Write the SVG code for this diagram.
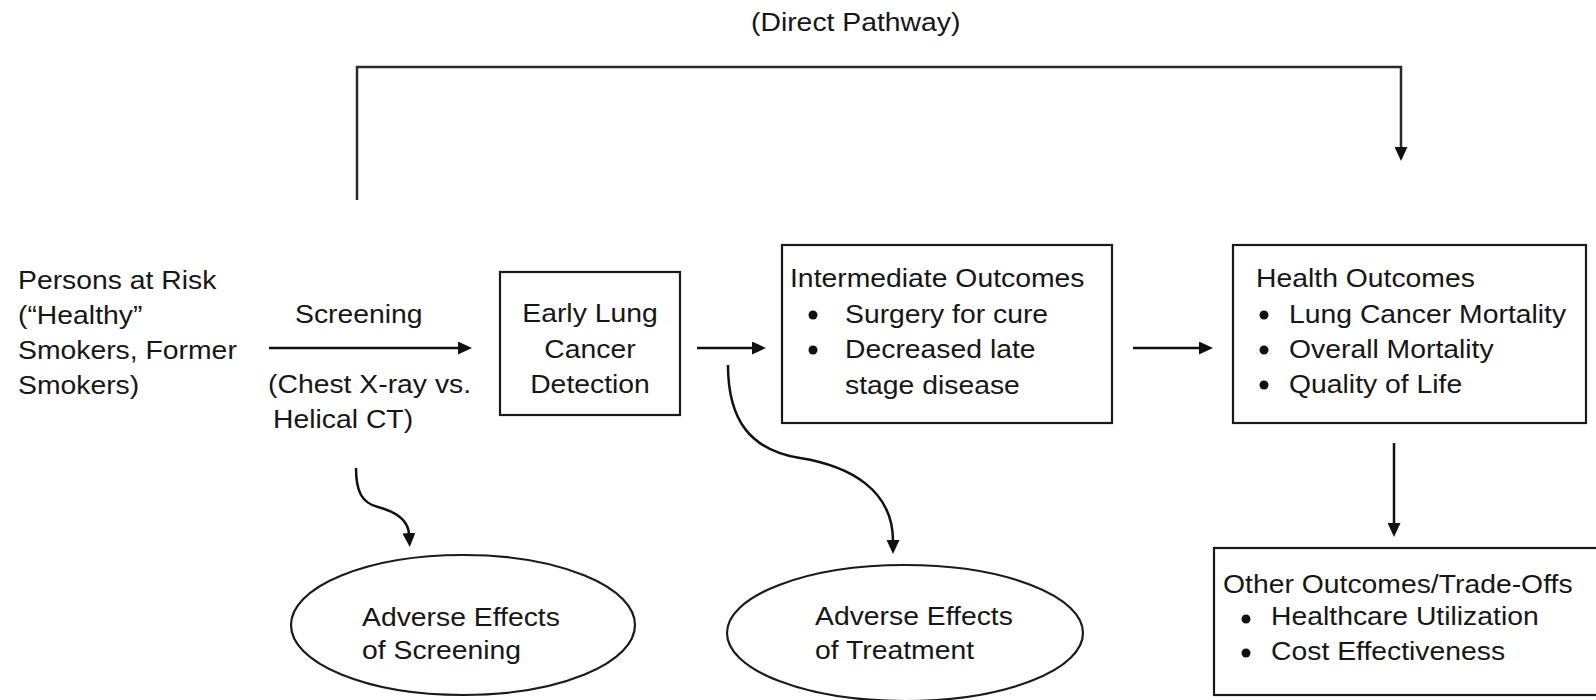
<svg xmlns="http://www.w3.org/2000/svg" width="1596" height="700" viewBox="0 0 1596 700">
<defs>
<style>
.t{font-family:"Liberation Sans",Arial,Helvetica,sans-serif;font-size:26px;fill:#161616}
.m{text-anchor:middle}
.box{fill:#fff;stroke:#1a1a1a;stroke-width:2.2}
.ell{fill:#fff;stroke:#1a1a1a;stroke-width:2.2}
.ln{fill:none;stroke:#111;stroke-width:2.5}
.dp{fill:none;stroke:#2a2a2a;stroke-width:2.5}
.dot{fill:#111}
</style>
<marker id="ah" viewBox="0 0 14 13" refX="1" refY="6.5" markerWidth="14" markerHeight="13" markerUnits="userSpaceOnUse" orient="auto"><path d="M0,0 L14,6.5 L0,13 z" fill="#111"/></marker>
</defs>
<rect width="1596" height="700" fill="#fff"/>

<g id="connectors">
<path class="dp" d="M357,200 V67 H1401 V148" marker-end="url(#ah)"/>
<path class="ln" d="M269,348 H459" marker-end="url(#ah)"/>
<path class="ln" d="M697,348 H753" marker-end="url(#ah)"/>
<path class="ln" d="M1133,348 H1200" marker-end="url(#ah)"/>
<path class="ln" d="M1394,443 V524" marker-end="url(#ah)"/>
<path class="ln" d="M356,468 C356,492 362,503 378,507 C393,511 408,518 409,534" marker-end="url(#ah)"/>
<path class="ln" d="M728,365 C728,420 750,450 800,458 C850,466 893,490 893,541" marker-end="url(#ah)"/>
<text class="t" transform="translate(751 0) scale(1.09 1)"><tspan x="0" y="31">(Direct Pathway)</tspan></text>
<text class="t" transform="translate(295 0) scale(1.09 1)"><tspan x="0" y="323">Screening</tspan></text>
<text class="t" transform="translate(268 0) scale(1.09 1)"><tspan x="0" y="393">(Chest X-ray vs.</tspan><tspan x="4.6" y="428">Helical CT)</tspan></text>
</g>

<g id="persons">
<text class="t" transform="translate(18 0) scale(1.09 1)"><tspan x="0" y="289">Persons at Risk</tspan><tspan x="0" y="324">(“Healthy”</tspan><tspan x="0" y="359">Smokers, Former</tspan><tspan x="0" y="394">Smokers)</tspan></text>
</g>

<g id="early">
<rect class="box" x="500" y="272" width="180" height="143"/>
<text class="t m" transform="translate(590 0) scale(1.09 1)"><tspan x="0" y="322">Early Lung</tspan><tspan x="0" y="358">Cancer</tspan><tspan x="0" y="393">Detection</tspan></text>
</g>

<g id="intermediate">
<rect class="box" x="782" y="245" width="330" height="178"/>
<text class="t" transform="translate(790 0) scale(1.09 1)"><tspan x="0" y="287">Intermediate Outcomes</tspan></text>
<circle class="dot" cx="813" cy="315" r="4.5"/>
<circle class="dot" cx="813" cy="350" r="4.5"/>
<text class="t" transform="translate(845 0) scale(1.09 1)"><tspan x="0" y="323">Surgery for cure</tspan><tspan x="0" y="358">Decreased late</tspan><tspan x="0" y="394">stage disease</tspan></text>
</g>

<g id="health">
<rect class="box" x="1233" y="245" width="353" height="178"/>
<text class="t" transform="translate(1256 0) scale(1.09 1)"><tspan x="0" y="287">Health Outcomes</tspan></text>
<circle class="dot" cx="1264" cy="315" r="4.5"/>
<circle class="dot" cx="1264" cy="350" r="4.5"/>
<circle class="dot" cx="1264" cy="385" r="4.5"/>
<text class="t" transform="translate(1289 0) scale(1.09 1)"><tspan x="0" y="323">Lung Cancer Mortality</tspan><tspan x="0" y="358">Overall Mortality</tspan><tspan x="0" y="393">Quality of Life</tspan></text>
</g>

<g id="other">
<rect class="box" x="1214" y="548" width="390" height="147"/>
<text class="t" transform="translate(1223 0) scale(1.09 1)"><tspan x="0" y="593">Other Outcomes/Trade-Offs</tspan></text>
<circle class="dot" cx="1246" cy="619" r="4.5"/>
<circle class="dot" cx="1246" cy="653" r="4.5"/>
<text class="t" transform="translate(1271 0) scale(1.09 1)"><tspan x="0" y="625">Healthcare Utilization</tspan><tspan x="0" y="660">Cost Effectiveness</tspan></text>
</g>

<g id="adverse-screening">
<ellipse class="ell" cx="463" cy="625" rx="172" ry="70"/>
<text class="t" transform="translate(362 0) scale(1.09 1)"><tspan x="0" y="626">Adverse Effects</tspan><tspan x="0" y="659">of Screening</tspan></text>
</g>

<g id="adverse-treatment">
<ellipse class="ell" cx="905" cy="633" rx="178" ry="68"/>
<text class="t" transform="translate(815 0) scale(1.09 1)"><tspan x="0" y="625">Adverse Effects</tspan><tspan x="0" y="659">of Treatment</tspan></text>
</g>
</svg>
